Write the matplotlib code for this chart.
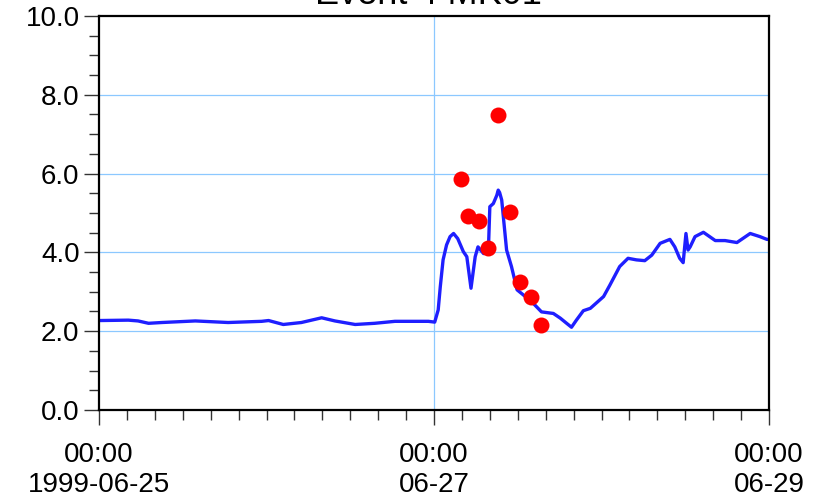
import matplotlib
matplotlib.use("Agg")
import matplotlib.pyplot as plt
import matplotlib.dates as mdates
from matplotlib.ticker import MultipleLocator, FuncFormatter
import pandas as pd

plt.rcParams['font.family'] = ['Liberation Sans', 'DejaVu Sans']

title = "Event 4 MK01"
start = pd.Timestamp("1999-06-25 00:00")
end = pd.Timestamp("1999-06-29 00:00")

# modelled series: hours since start, value
line_hours = [0, 4.2, 5.6, 7.1, 9.0, 13.8, 18.5, 23.3, 24.3, 26.4, 29.0, 31.9, 33.8,
              36.7, 39.5, 42.4, 47.2, 48.1, 48.6, 48.9, 49.3, 49.8, 50.3, 50.8, 51.4, 52.2, 52.7,
              53.3, 53.9, 54.3, 55.1, 55.8, 56.0, 56.5, 57.0, 57.2, 57.4, 57.7, 58.4, 59.1, 59.9,
              60.8, 62.2, 63.4, 65.1, 66.1, 67.0, 67.7, 68.4, 69.4, 70.4, 72.3, 73.2,
              74.6, 75.8, 77.0, 78.2, 79.2, 80.4, 81.8, 82.5, 83.2, 83.7, 84.1, 84.4,
              84.7, 85.4, 86.6, 88.3, 89.7, 91.4, 93.3, 94.7, 95.7, 96.0]
line_values = [2.27, 2.28, 2.26, 2.20, 2.22, 2.26, 2.22, 2.25, 2.27, 2.17, 2.22, 2.34, 2.26,
               2.17, 2.20, 2.25, 2.25, 2.23, 2.54, 3.13, 3.81, 4.19, 4.40, 4.48, 4.35, 4.02, 3.89,
               3.09, 3.89, 4.14, 3.97, 4.10, 5.16, 5.24, 5.45, 5.58, 5.52, 5.33, 4.06, 3.64, 3.05,
               2.92, 2.71, 2.49, 2.45, 2.33, 2.20, 2.10, 2.28, 2.52, 2.58, 2.88, 3.17,
               3.64, 3.85, 3.81, 3.79, 3.93, 4.23, 4.33, 4.14, 3.85, 3.74, 4.48, 4.06,
               4.14, 4.40, 4.51, 4.30, 4.30, 4.25, 4.48, 4.40, 4.33, 4.33]

# observed points
obs_hours = [51.87, 52.87, 54.45, 55.74, 57.17, 58.89, 60.33, 61.9, 63.33]
obs_values = [5.86, 4.92, 4.80, 4.10, 7.49, 5.03, 3.26, 2.87, 2.16]

line_times = start + pd.to_timedelta(line_hours, unit="h")
obs_times = start + pd.to_timedelta(obs_hours, unit="h")

fig = plt.figure(figsize=(8.23, 4.97), dpi=100)
ax = fig.add_axes([0.1203, 0.1751, 0.8141, 0.7927])

grid_color = "#8cc8ff"
for yv in [2, 4, 6, 8]:
    ax.axhline(yv, color=grid_color, lw=0.9, zorder=0)
ax.axvline(pd.Timestamp("1999-06-27"), color=grid_color, lw=0.9, zorder=0)

ax.plot(line_times, line_values, color="#1f1fff", lw=2.4, zorder=2,
        solid_joinstyle="round")
ax.plot(obs_times, obs_values, "o", color="#ff0000", ms=11.5, mec="none", zorder=3)

ax.set_xlim(start, end)
ax.set_ylim(0, 10)

ax.yaxis.set_major_locator(MultipleLocator(2))
ax.yaxis.set_minor_locator(MultipleLocator(0.5))
ax.yaxis.set_major_formatter(FuncFormatter(lambda v, p: f"{v:.1f}"))

major_dates = [pd.Timestamp("1999-06-25"), pd.Timestamp("1999-06-27"), pd.Timestamp("1999-06-29")]
ax.set_xticks([mdates.date2num(d) for d in major_dates])
ax.set_xticklabels(["00:00\n1999-06-25", "00:00\n06-27", "00:00\n06-29"])
ax.xaxis.set_minor_locator(mdates.HourLocator(byhour=range(0, 24, 4)))

ax.tick_params(axis="both", which="major", direction="out", length=11, width=1,
               color="#333333", labelsize=20, pad=4)
ax.tick_params(axis="both", which="minor", direction="out", length=7, width=1,
               color="#333333")
ax.tick_params(axis="x", which="major", pad=12)
ax.tick_params(axis="y", which="major", pad=3)

for s in ax.spines.values():
    s.set_linewidth(1.6)
    s.set_color("black")

# title sits mostly above the top edge, as in the original export
fig.text(0.52, 1 - 4 / 497, title, fontsize=26, ha="center", va="baseline")

fig.savefig("out.png", dpi=100)
